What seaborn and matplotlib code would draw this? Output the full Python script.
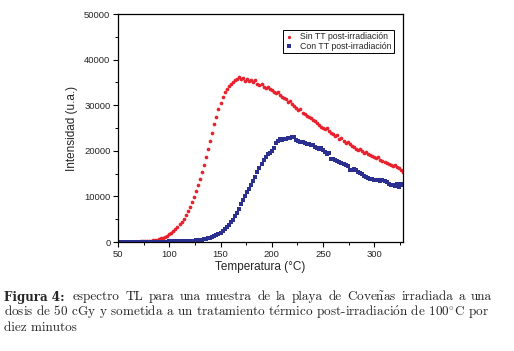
import seaborn as sns
import pandas as pd
import matplotlib.pyplot as plt

temps = list(range(50, 330, 2))

sin_tt = [0, 20, 10, 30, 40, 30, 50, 60, 80, 70,
          100, 120, 130, 160, 190, 230, 280, 340, 420, 520,
          640, 780, 950, 1150, 1380, 1650, 1980, 2350, 2800, 3300,
          3850, 4450, 5150, 5900, 6800, 7750, 8800, 9950, 11200, 12500,
          13900, 15400, 17000, 18700, 20400, 22200, 24000, 25800, 27500, 29100,
          30500, 31800, 32800, 33600, 34200, 34700, 35100, 35500, 35800, 36100,
          35700, 35900, 35400, 35700, 35300, 35500, 35100, 35600, 34700, 34400,
          34600, 34100, 33800, 34000, 33500, 33300, 32900, 32600, 32800, 32200,
          31900, 31600, 31300, 30700, 30900, 30200, 29800, 29500, 28900, 29100,
          28400, 28000, 27700, 27500, 27100, 26800, 26500, 26200, 25600, 25300,
          25000, 24800, 25100, 24300, 24000, 23700, 23300, 23500, 22600, 22900,
          22100, 21800, 21900, 21400, 21000, 20800, 20500, 20200, 20400, 19900,
          19600, 19800, 19300, 19000, 18900, 18700, 18400, 18600, 18000, 17700,
          17500, 17300, 17100, 16900, 16700, 16800, 16500, 16300, 15900, 15300]

con_tt = [0, 10, 0, 20, 10, 20, 30, 20, 40, 30,
          40, 50, 40, 60, 50, 60, 70, 60, 80, 70,
          90, 80, 100, 90, 110, 120, 110, 130, 140, 150,
          160, 170, 180, 200, 220, 250, 280, 320, 370, 420,
          480, 550, 630, 720, 830, 960, 1120, 1300, 1520, 1780,
          2080, 2420, 2800, 3250, 3750, 4300, 4900, 5600, 6400, 7300,
          8300, 9200, 10100, 10900, 11700, 12400, 13300, 14300, 15300, 16300,
          17200, 18000, 18600, 19200, 19600, 19900, 20700, 21700, 22200, 22500,
          22400, 22600, 22700, 22800, 22900, 23000, 23100, 22300, 22100, 22000,
          21900, 21800, 21600, 21500, 21300, 21200, 20900, 20700, 20500, 20600,
          20200, 19700, 19300, 19500, 18200, 18100, 17900, 17800, 17500, 17300,
          17200, 16800, 16600, 15900, 15700, 16000, 15800, 15400, 15100, 14900,
          14400, 14200, 14000, 13900, 13800, 13700, 13600, 13500, 13400, 13500,
          13300, 13200, 12800, 12600, 12400, 12200, 12800, 12100, 12700, 12500]

df_sin = pd.DataFrame({'T': temps, 'I': sin_tt})
df_con = pd.DataFrame({'T': temps, 'I': con_tt})

sns.set_style('ticks')
plt.rcParams['font.family'] = ['Liberation Sans', 'DejaVu Sans']
plt.rcParams['mathtext.fontset'] = 'cm'
plt.rcParams['xtick.direction'] = 'out'
plt.rcParams['ytick.direction'] = 'out'

fig = plt.figure(figsize=(5.14, 3.51), dpi=100)
ax = fig.add_axes([0.2296, 0.3105, 0.784 - 0.2296, 0.960 - 0.3105])

sns.scatterplot(data=df_sin, x='T', y='I', ax=ax, color='#e8212e', marker='o',
                s=7, linewidth=0, label='Sin TT post-irradiación')
sns.scatterplot(data=df_con, x='T', y='I', ax=ax, color='#2b2f8f', marker='s',
                s=9, linewidth=0, label='Con TT post-irradiación')

ax.set_xlim(50, 328)
ax.set_ylim(0, 50000)
ax.set_xticks([50, 100, 150, 200, 250, 300])
ax.set_xticks(range(75, 328, 50), minor=True)
ax.set_yticks(range(0, 50001, 10000))
ax.set_yticks(range(5000, 50000, 10000), minor=True)
ax.tick_params(which='major', length=3.5, width=0.8, labelsize=6.8, color='black', pad=2)
ax.tick_params(which='minor', length=2, width=0.7, color='black')
for sp in ax.spines.values():
    sp.set_visible(True)
    sp.set_linewidth(0.9)
    sp.set_color('black')

ax.set_xlabel('Temperatura (°C)', fontsize=8.5, labelpad=2)
ax.set_ylabel('Intensidad (u.a.)', fontsize=8.5, labelpad=4)

leg = ax.legend(loc='upper right', bbox_to_anchor=(0.968, 0.93), fontsize=6.3,
                frameon=True, fancybox=False, edgecolor='black', framealpha=1,
                borderpad=0.25, labelspacing=0.05, handletextpad=0.9,
                handlelength=0.8, borderaxespad=0, markerscale=0.9)
leg.get_frame().set_linewidth(0.7)

# caption, first line justified like in the paper
cap_size = 9.5
cap_font = ['cmr10', 'DejaVu Serif']
line1 = ['espectro', 'TL', 'para', 'una', 'muestra', 'de', 'la', 'playa', 'de',
         r'Cove$\mathrm{\tilde{n}}$as', 'irradiada', 'a', 'una']
W = 514.0
H = 351.0
y1 = 1 - 297 / H
fig.text(4 / W, y1, 'Figura 4:', fontsize=8.6, family=['DejaVu Serif'],
         fontweight='bold', va='center', ha='left')
words = [fig.text(0, y1, w, fontsize=cap_size, family=cap_font,
                  va='center', ha='left') for w in line1]
fig.canvas.draw()
r = fig.canvas.get_renderer()
widths = [t.get_window_extent(r).width for t in words]
x0 = 73.0
gap = (492 - x0 - sum(widths)) / (len(words) - 1)
x = x0
for t, w in zip(words, widths):
    t.set_x(x / W)
    x += w + gap

fig.text(4 / W, 1 - 312.5 / H,
         r'dosis de 50 cGy y sometida a un tratamiento t$\mathrm{\acute{e}}$rmico '
         r'post-irradiaci$\mathrm{\acute{o}}$n de 100$^{\circ}$C por',
         fontsize=cap_size, family=cap_font, va='center', ha='left')
fig.text(4 / W, 1 - 328 / H, 'diez minutos', fontsize=cap_size, family=cap_font,
         va='center', ha='left')

fig.savefig('out.png', dpi=100)
